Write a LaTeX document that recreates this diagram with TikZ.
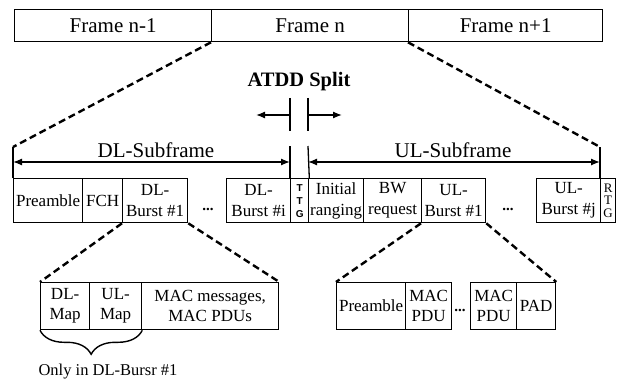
\documentclass[tikz,border=0pt]{standalone}
\usepackage{fontspec}
\setmainfont{Liberation Serif}
\newfontfamily\sansf{Liberation Sans}
\usetikzlibrary{arrows.meta,decorations.pathreplacing}
\begin{document}
\begin{tikzpicture}[x=1pt,y=-1pt,
  cell/.style={draw, line width=1.3pt, inner sep=0pt, anchor=north west, align=center,
    font=\fontsize{17}{21}\selectfont},
  topcell/.style={cell, minimum height=32pt, font=\fontsize{21}{24}\selectfont},
  rowcell/.style={cell, minimum height=44pt},
  lowcell/.style={cell, minimum height=47pt, font=\fontsize{17}{20}\selectfont},
  zoomline/.style={line width=2.4pt, dash pattern=on 7pt off 4pt},
  thin/.style={line width=1.3pt},
  span/.style={thin, {Latex[length=9pt,width=7pt]}-{Latex[length=9pt,width=7pt]}},
  onearrow/.style={thin, -{Latex[length=9pt,width=7pt]}},
  dots/.style={font=\fontsize{15}{15}\selectfont\bfseries, inner sep=0pt}
]
\useasboundingbox (0,0) rectangle (617,382);

% top frames
\node[topcell, minimum width=197pt] (f1) at (14,9) {Frame n-1};
\node[topcell, minimum width=197pt] (f2) at (211,9) {Frame n};
\node[topcell, minimum width=194pt] (f3) at (408,9) {Frame n+1};

% ATDD split
\node[font=\fontsize{20.5}{22}\selectfont\bfseries, inner sep=0pt] (atdd) at (299,82) {ATDD Split};
\coordinate (s1t) at (290,98); \coordinate (s1b) at (290,131);
\coordinate (s2t) at (308,98); \coordinate (s2b) at (308,131);
\coordinate (s1m) at (290,115); \coordinate (s2m) at (308,115);
\coordinate (al) at (256,115); \coordinate (ar) at (342,115);
\draw[thin] (s1t) -- (s1b);
\draw[thin] (s2t) -- (s2b);
\draw[onearrow] (s1m) -- (al);
\draw[onearrow] (s2m) -- (ar);

% subframe row
\node[rowcell, minimum width=69pt] (pre) at (13,178) {Preamble};
\node[rowcell, minimum width=40pt] (fch) at (82,178) {FCH};
\node[rowcell, minimum width=65pt] (dlb1) at (122,178) {DL-\\Burst \#1};
\node[dots] (d1) at (208,209) {...};
\node[rowcell, minimum width=64pt] (dlbi) at (226,178) {DL-\\Burst \#i};
\node[rowcell, minimum width=18pt, font=\sansf\bfseries\fontsize{10}{13}\selectfont] (ttg) at (290,178) {T\\T\\G};
\node[rowcell, minimum width=15pt, font=\fontsize{13}{12.5}\selectfont] (rtg) at (600,178) {R\\T\\G};
\node[rowcell, minimum width=55pt] (ir) at (308,178) {Initial\\ranging};
\node[rowcell, minimum width=58pt] (bw) at (363,178) {BW\\request};
\node[rowcell, minimum width=64pt] (ulb1) at (421,178) {UL-\\Burst \#1};
\node[dots] (d2) at (508,209) {...};
\node[rowcell, minimum width=64pt] (ulbj) at (536,178) {UL-\\Burst \#j};

% subframe boundaries
\coordinate (dlL) at (13,147); \coordinate (dlR) at (290,146);
\coordinate (ulL) at (308,146); \coordinate (ulR) at (600,147);
\draw[zoomline] (f2.south west) -- (dlL);
\draw[zoomline] (f3.south west) -- (ulR);
\draw[thin] (dlL) -- (pre.north west);
\draw[thin] (dlR) -- (ttg.north west);
\draw[thin] (ulL) -- (ttg.north east);
\draw[thin] (ulR) -- (rtg.north west);
\coordinate (dla) at (13,162); \coordinate (dlb) at (290,162);
\coordinate (ula) at (308,162); \coordinate (ulb) at (600,162);
\draw[span] (dla) -- (dlb);
\draw[span] (ula) -- (ulb);
\node[font=\fontsize{21}{24}\selectfont, inner sep=0pt] (dllab) at (156,150) {DL-Subframe};
\node[font=\fontsize{21}{24}\selectfont, inner sep=0pt] (ullab) at (453,150) {UL-Subframe};

% lower left: DL burst content
\node[lowcell, minimum width=49pt] (dlmap) at (40,282) {DL-\\Map};
\node[lowcell, minimum width=52pt] (ulmap) at (89,282) {UL-\\Map};
\node[lowcell, minimum width=137pt] (mac) at (141,282) {MAC messages,\\MAC PDUs};
\draw[zoomline] (dlb1.south west) -- (dlmap.north west);
\draw[zoomline] (dlb1.south east) -- (mac.north east);
\draw[line width=1.4pt, decorate, decoration={brace, amplitude=24pt, mirror}] (dlmap.south west) -- (ulmap.south east);
\node[font=\fontsize{16.5}{18}\selectfont, inner sep=0pt] (only) at (108,372) {Only in DL-Bursr \#1};

% lower right: UL burst content
\node[lowcell, minimum width=69pt] (pre2) at (336,282) {Preamble};
\node[lowcell, minimum width=46pt] (mp1) at (405,282) {MAC\\PDU};
\node[dots] (d3) at (460,310) {...};
\node[lowcell, minimum width=46pt] (mp2) at (470,282) {MAC\\PDU};
\node[lowcell, minimum width=39pt] (pad) at (516,282) {PAD};
\draw[zoomline] (ulb1.south west) -- (pre2.north west);
\draw[zoomline] (ulb1.south east) -- (pad.north east);
\end{tikzpicture}
\end{document}
